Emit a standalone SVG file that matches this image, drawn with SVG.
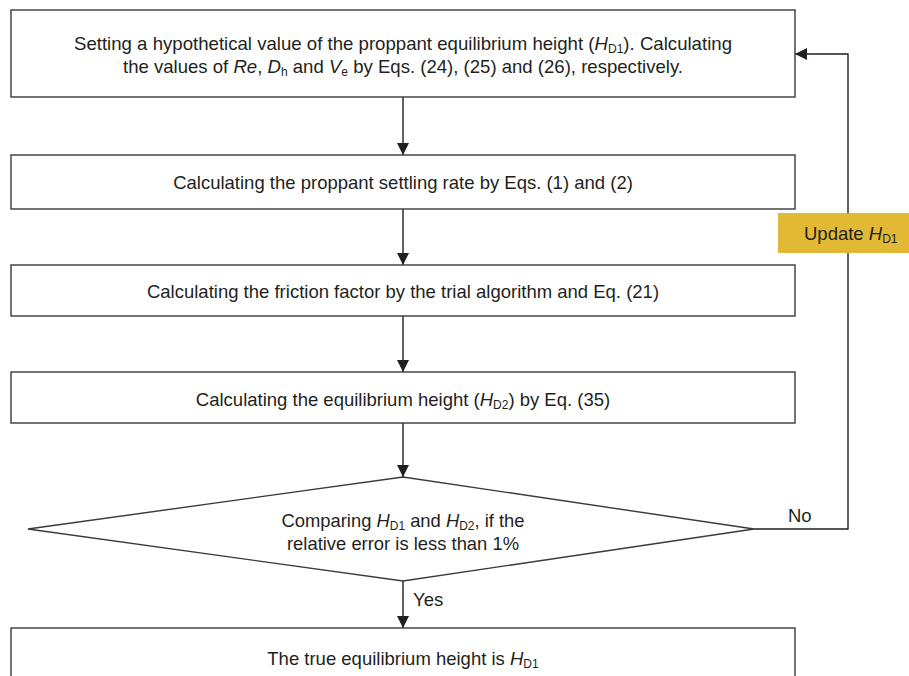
<svg xmlns="http://www.w3.org/2000/svg" width="909" height="676" viewBox="0 0 909 676">
<defs>
<style>
.box{fill:#fff;stroke:#3a3a3a;stroke-width:1.4}
.t{font-family:"Liberation Sans",Arial,sans-serif;font-size:18.5px;fill:#231f20;text-anchor:middle}
.sub{font-size:12px}
.it{font-style:italic}
.ln{fill:none;stroke:#231f20;stroke-width:1.4}
</style>
<marker id="ah" markerWidth="12" markerHeight="12" viewBox="0 0 12 12" refX="12" refY="6" orient="auto" markerUnits="userSpaceOnUse">
<path d="M0,0 L12,6 L0,12 Z" fill="#231f20"/>
</marker>
</defs>
<rect width="909" height="676" fill="#fff"/>
<g id="connectors">
<line class="ln" x1="403" y1="97" x2="403" y2="155" marker-end="url(#ah)"/>
<line class="ln" x1="403" y1="209" x2="403" y2="265" marker-end="url(#ah)"/>
<line class="ln" x1="403" y1="316" x2="403" y2="372" marker-end="url(#ah)"/>
<line class="ln" x1="403" y1="423" x2="403" y2="477" marker-end="url(#ah)"/>
<line class="ln" x1="403" y1="581" x2="403" y2="628" marker-end="url(#ah)"/>
<polyline class="ln" points="754,529 848,529 848,54 795,54" marker-end="url(#ah)"/>
<text class="t" x="788" y="522" style="text-anchor:start">No</text>
<text class="t" x="413" y="606" style="text-anchor:start">Yes</text>
</g>
<g id="n1">
<rect class="box" x="11" y="10" width="784" height="87"/>
<text class="t" x="403" y="50" textLength="658" lengthAdjust="spacingAndGlyphs">Setting a hypothetical value of the proppant equilibrium height (<tspan class="it">H</tspan><tspan class="sub" dy="3">D1</tspan><tspan dy="-3">). Calculating</tspan></text>
<text class="t" x="403" y="73" textLength="560" lengthAdjust="spacingAndGlyphs">the values of <tspan class="it">Re</tspan>, <tspan class="it">D</tspan><tspan class="sub" dy="3">h</tspan><tspan dy="-3"> and </tspan><tspan class="it">V</tspan><tspan class="sub" dy="3">e</tspan><tspan dy="-3"> by Eqs. (24), (25) and (26), respectively.</tspan></text>
</g>
<g id="n2">
<rect class="box" x="11" y="155" width="784" height="54"/>
<text class="t" x="403" y="189">Calculating the proppant settling rate by Eqs. (1) and (2)</text>
</g>
<g id="n3">
<rect class="box" x="11" y="265" width="784" height="51"/>
<text class="t" x="403" y="298">Calculating the friction factor by the trial algorithm and Eq. (21)</text>
</g>
<g id="n4">
<rect class="box" x="11" y="372" width="784" height="51"/>
<text class="t" x="403" y="406">Calculating the equilibrium height (<tspan class="it">H</tspan><tspan class="sub" dy="3">D2</tspan><tspan dy="-3">) by Eq. (35)</tspan></text>
</g>
<g id="n5">
<polygon class="box" points="403,477 754,529 403,581 28,529"/>
<text class="t" x="403" y="527" textLength="243" lengthAdjust="spacingAndGlyphs">Comparing <tspan class="it">H</tspan><tspan class="sub" dy="3">D1</tspan><tspan dy="-3"> and </tspan><tspan class="it">H</tspan><tspan class="sub" dy="3">D2</tspan><tspan dy="-3">, if the</tspan></text>
<text class="t" x="403" y="550" textLength="232" lengthAdjust="spacingAndGlyphs">relative error is less than 1%</text>
</g>
<g id="n6">
<rect class="box" x="11" y="628" width="784" height="60"/>
<text class="t" x="403" y="665">The true equilibrium height is <tspan class="it">H</tspan><tspan class="sub" dy="3">D1</tspan></text>
</g>
<g id="update">
<rect x="778" y="213" width="131" height="40" fill="#e2b935"/>
<text class="t" x="804" y="240" style="text-anchor:start">Update <tspan class="it">H</tspan><tspan class="sub" dy="3">D1</tspan></text>
</g>
</svg>
